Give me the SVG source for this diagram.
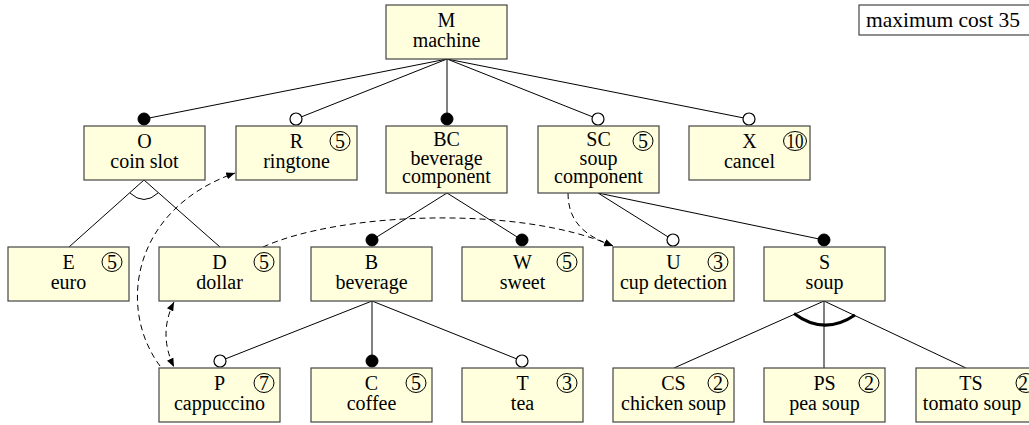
<svg xmlns="http://www.w3.org/2000/svg" width="1029" height="425" viewBox="0 0 1029 425">
<style>
.box{fill:#ffffde;stroke:#444;stroke-width:1.2}
.t{font-family:"Liberation Serif","Times New Roman",serif;font-size:20px;fill:#000;text-anchor:middle}
.cc{fill:none;stroke:#000;stroke-width:1}
.ln{stroke:#000;stroke-width:1;fill:none}
.dash{stroke:#000;stroke-width:1;fill:none;stroke-dasharray:6,4}
.full{fill:#000;stroke:#000;stroke-width:1}
.opt{fill:#fff;stroke:#000;stroke-width:1.2}
</style>
<defs>
<marker id="ah" viewBox="0 0 10 8" refX="10" refY="4" markerWidth="9" markerHeight="7" markerUnits="userSpaceOnUse" orient="auto-start-reverse">
<path d="M0,0 L10,4 L0,8 z" fill="#000"/>
</marker>
</defs>
<rect x="859" y="5" width="180" height="30" fill="#fff" stroke="#444" stroke-width="1.2"/>
<text class="t" x="866" y="27" style="text-anchor:start;font-size:21.5px">maximum cost 35</text>
<g id="connectors">
<line class="ln" x1="447" y1="59" x2="144" y2="119"/>
<line class="ln" x1="447" y1="59" x2="296" y2="119"/>
<line class="ln" x1="447" y1="59" x2="447" y2="119"/>
<line class="ln" x1="447" y1="59" x2="598" y2="119"/>
<line class="ln" x1="447" y1="59" x2="749" y2="119"/>
<line class="ln" x1="144" y1="180" x2="69" y2="247"/>
<line class="ln" x1="144" y1="180" x2="220" y2="247"/>
<path class="ln" d="M130,193 Q144,206 158,193"/>
<line class="ln" x1="447" y1="193" x2="372" y2="240"/>
<line class="ln" x1="447" y1="193" x2="522" y2="240"/>
<line class="ln" x1="598" y1="193" x2="673" y2="240"/>
<line class="ln" x1="598" y1="193" x2="824" y2="240"/>
<line class="ln" x1="372" y1="301" x2="220" y2="361"/>
<line class="ln" x1="372" y1="301" x2="372" y2="361"/>
<line class="ln" x1="372" y1="301" x2="522" y2="361"/>
<line class="ln" x1="824" y1="301" x2="674" y2="368"/>
<line class="ln" x1="824" y1="301" x2="824" y2="368"/>
<line class="ln" x1="824" y1="301" x2="966" y2="368"/>
<path d="M794,313.5 Q824,336 855,315" fill="none" stroke="#000" stroke-width="3"/>
<circle class="full" cx="144" cy="119" r="6"/>
<circle class="opt" cx="296" cy="119" r="6"/>
<circle class="full" cx="447" cy="119" r="6"/>
<circle class="opt" cx="598" cy="119" r="6"/>
<circle class="opt" cx="749" cy="119" r="6"/>
<circle class="full" cx="372" cy="240" r="6"/>
<circle class="full" cx="522" cy="240" r="6"/>
<circle class="opt" cx="673" cy="240" r="6"/>
<circle class="full" cx="824" cy="240" r="6"/>
<circle class="opt" cx="220" cy="361" r="6"/>
<circle class="full" cx="372" cy="361" r="6"/>
<circle class="opt" cx="522" cy="361" r="6"/>
<path class="dash" marker-end="url(#ah)" d="M160,366 C118,310 130,210 235,173"/>
<path class="dash" marker-start="url(#ah)" marker-end="url(#ah)" d="M174,302 Q158,334 174,367"/>
<path class="dash" marker-end="url(#ah)" d="M263,247 C340,212 520,205 613,246"/>
<path class="dash" marker-end="url(#ah)" d="M568,193 C568,222 585,236 613,246"/>
</g>
<g id="M"><rect class="box" x="386" y="5" width="121" height="54"/><text class="t" x="446.5" y="27">M</text><text class="t" x="446.5" y="47">machine</text></g>
<g id="O"><rect class="box" x="84" y="126" width="121" height="54"/><text class="t" x="144.5" y="148">O</text><text class="t" x="144.5" y="168">coin slot</text></g>
<g id="R"><rect class="box" x="236" y="126" width="121" height="54"/><text class="t" x="296.5" y="148">R</text><text class="t" x="296.5" y="168">ringtone</text><ellipse class="cc" cx="340" cy="141" rx="10" ry="9.5"/><text class="t" x="340" y="148">5</text></g>
<g id="BC"><rect class="box" x="386" y="126" width="121" height="67"/><text class="t" x="446.5" y="146">BC</text><text class="t" x="446.5" y="164.5">beverage</text><text class="t" x="446.5" y="183">component</text></g>
<g id="SC"><rect class="box" x="538" y="126" width="121" height="67"/><text class="t" x="598.5" y="146">SC</text><text class="t" x="598.5" y="164.5">soup</text><text class="t" x="598.5" y="183">component</text><ellipse class="cc" cx="643" cy="141" rx="10" ry="9.5"/><text class="t" x="643" y="148">5</text></g>
<g id="X"><rect class="box" x="689" y="126" width="121" height="54"/><text class="t" x="749.5" y="148">X</text><text class="t" x="749.5" y="168">cancel</text><ellipse class="cc" cx="795" cy="141" rx="11.5" ry="9.5"/><text class="t" x="795" y="148" textLength="17" lengthAdjust="spacingAndGlyphs">10</text></g>
<g id="E"><rect class="box" x="8" y="247" width="121" height="54"/><text class="t" x="68.5" y="269">E</text><text class="t" x="68.5" y="289">euro</text><ellipse class="cc" cx="112" cy="262" rx="10" ry="9.5"/><text class="t" x="112" y="269">5</text></g>
<g id="D"><rect class="box" x="159" y="247" width="121" height="54"/><text class="t" x="219.5" y="269">D</text><text class="t" x="219.5" y="289">dollar</text><ellipse class="cc" cx="264" cy="262" rx="10" ry="9.5"/><text class="t" x="264" y="269">5</text></g>
<g id="B"><rect class="box" x="311" y="247" width="121" height="54"/><text class="t" x="371.5" y="269">B</text><text class="t" x="371.5" y="289">beverage</text></g>
<g id="W"><rect class="box" x="462" y="247" width="121" height="54"/><text class="t" x="522.5" y="269">W</text><text class="t" x="522.5" y="289">sweet</text><ellipse class="cc" cx="567" cy="262" rx="10" ry="9.5"/><text class="t" x="567" y="269">5</text></g>
<g id="U"><rect class="box" x="613" y="247" width="121" height="54"/><text class="t" x="673.5" y="269">U</text><text class="t" x="673.5" y="289">cup detection</text><ellipse class="cc" cx="718" cy="262" rx="10" ry="9.5"/><text class="t" x="718" y="269">3</text></g>
<g id="S"><rect class="box" x="764" y="247" width="121" height="54"/><text class="t" x="824.5" y="269">S</text><text class="t" x="824.5" y="289">soup</text></g>
<g id="P"><rect class="box" x="159" y="368" width="121" height="54"/><text class="t" x="219.5" y="390">P</text><text class="t" x="219.5" y="410">cappuccino</text><ellipse class="cc" cx="264" cy="383" rx="10" ry="9.5"/><text class="t" x="264" y="390">7</text></g>
<g id="C"><rect class="box" x="311" y="368" width="121" height="54"/><text class="t" x="371.5" y="390">C</text><text class="t" x="371.5" y="410">coffee</text><ellipse class="cc" cx="416" cy="383" rx="10" ry="9.5"/><text class="t" x="416" y="390">5</text></g>
<g id="T"><rect class="box" x="462" y="368" width="121" height="54"/><text class="t" x="522.5" y="390">T</text><text class="t" x="522.5" y="410">tea</text><ellipse class="cc" cx="567" cy="383" rx="10" ry="9.5"/><text class="t" x="567" y="390">3</text></g>
<g id="CS"><rect class="box" x="613" y="368" width="121" height="54"/><text class="t" x="673.5" y="390">CS</text><text class="t" x="673.5" y="410">chicken soup</text><ellipse class="cc" cx="718" cy="383" rx="10" ry="9.5"/><text class="t" x="718" y="390">2</text></g>
<g id="PS"><rect class="box" x="764" y="368" width="121" height="54"/><text class="t" x="824.5" y="390">PS</text><text class="t" x="824.5" y="410">pea soup</text><ellipse class="cc" cx="869" cy="383" rx="10" ry="9.5"/><text class="t" x="869" y="390">2</text></g>
<g id="TS"><rect class="box" x="916" y="368" width="125" height="54"/><text class="t" x="971" y="390">TS</text><text class="t" x="972" y="410">tomato soup</text><ellipse class="cc" cx="1026" cy="383" rx="10" ry="9.5"/><text class="t" x="1023" y="390">2</text></g>
</svg>
